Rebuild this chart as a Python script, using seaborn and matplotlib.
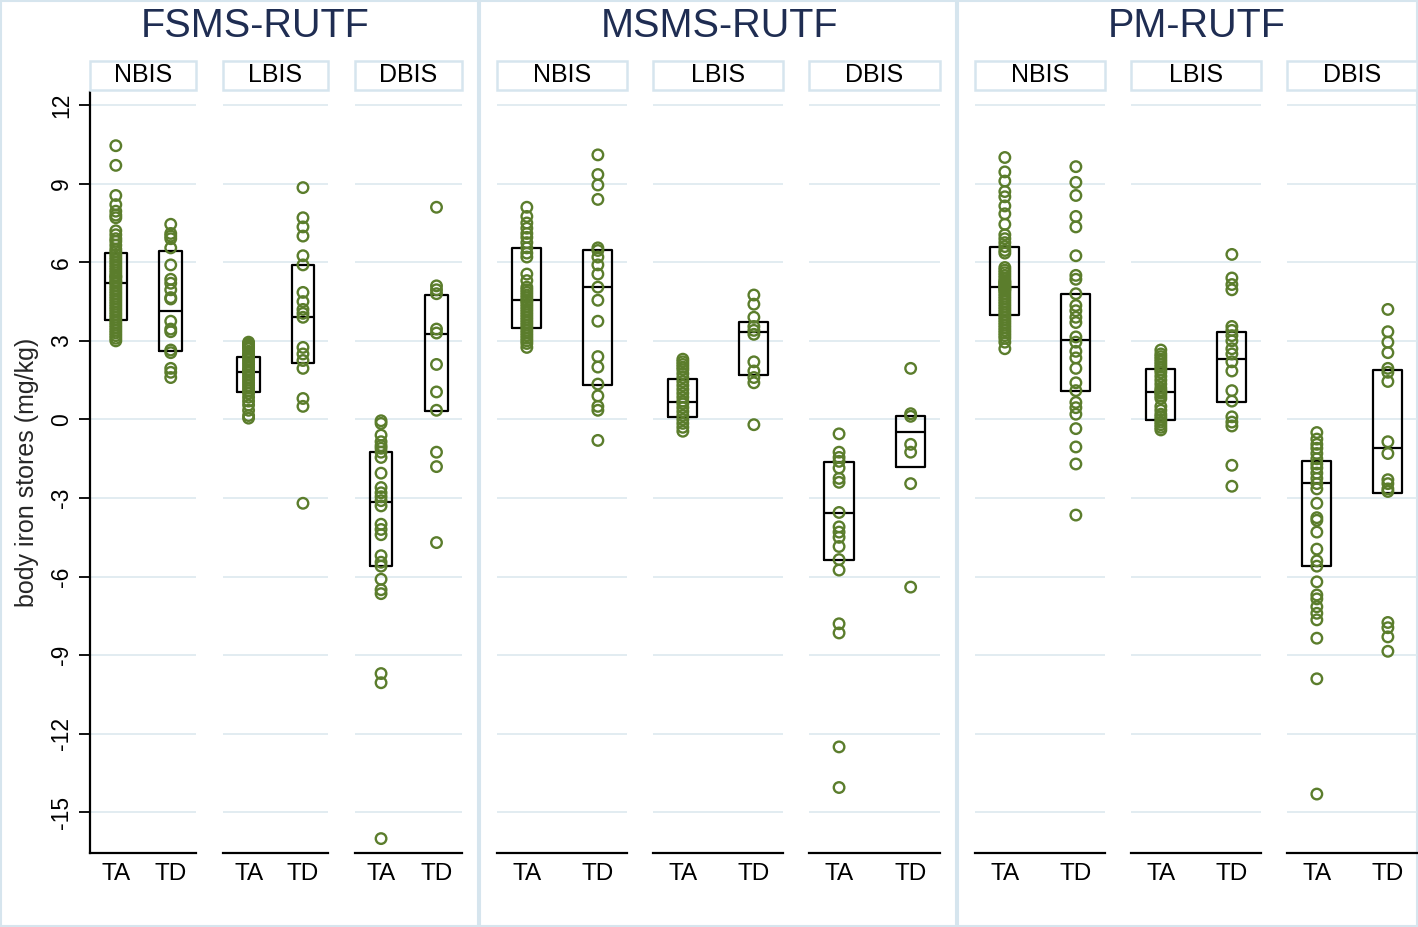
import numpy as np
import pandas as pd
import matplotlib
matplotlib.use("Agg")
import matplotlib.pyplot as plt
import seaborn as sns
from matplotlib.patches import Rectangle

# ---------------- data ----------------
programs = ["FSMS-RUTF", "MSMS-RUTF", "PM-RUTF"]
statuses = ["NBIS", "LBIS", "DBIS"]
groups = ["TA", "TD"]
yticks = [-15, -12, -9, -6, -3, 0, 3, 6, 9, 12]

fsms_nbis_ta = [10.45, 9.7, 8.55, 8.2, 7.95, 7.8, 7.7, 7.2, 7.05, 6.9, 6.8, 6.65, 6.5, 6.4, 6.3,
                6.2, 6.1, 6.0, 5.9, 5.8, 5.7, 5.6, 5.5, 5.45, 5.4, 5.3, 5.25, 5.2, 5.1, 5.0, 4.9,
                4.8, 4.7, 4.6, 4.5, 4.4, 4.3, 4.2, 4.1, 4.0, 3.9, 3.8, 3.7, 3.6, 3.5, 3.4, 3.3,
                3.2, 3.1, 3.0]
fsms_nbis_td = [7.45, 7.1, 7.0, 6.9, 6.55, 5.9, 5.35, 5.2, 4.95, 4.65, 4.6, 3.75, 3.45, 3.35,
                2.65, 2.55, 1.95, 1.8, 1.6]
fsms_lbis_ta = [2.95, 2.9, 2.85, 2.8, 2.75, 2.7, 2.6, 2.5, 2.45, 2.4, 2.3, 2.2, 2.1, 2.0, 1.9,
                1.85, 1.8, 1.7, 1.6, 1.5, 1.4, 1.3, 1.2, 1.1, 1.0, 0.85, 0.7, 0.55, 0.35, 0.15, 0.05]
fsms_lbis_td = [8.85, 7.7, 7.35, 7.0, 6.25, 5.9, 4.85, 4.5, 4.2, 4.05, 3.9, 2.75, 2.5, 2.25,
                1.95, 0.8, 0.5, -3.2]
fsms_dbis_ta = [-0.05, -0.15, -0.6, -0.85, -1.0, -1.1, -1.25, -1.45, -2.05, -2.6, -2.8, -2.95,
                -3.1, -3.3, -4.0, -4.2, -4.4, -5.2, -5.45, -5.6, -6.1, -6.5, -6.65, -9.7, -10.05, -16.0]
fsms_dbis_td = [8.1, 5.1, 4.95, 4.8, 3.45, 3.3, 2.1, 1.05, 0.35, -1.25, -1.8, -4.7]

msms_nbis_ta = [8.1, 7.75, 7.5, 7.3, 7.1, 6.95, 6.75, 6.55, 6.35, 6.2, 5.55, 5.3, 5.05, 4.95,
                4.85, 4.75, 4.65, 4.55, 4.5, 4.4, 4.3, 4.2, 4.1, 4.0, 3.9, 3.8, 3.7, 3.6, 3.5,
                3.4, 3.3, 3.2, 3.1, 3.0, 2.9, 2.75]
msms_nbis_td = [10.1, 9.35, 8.95, 8.4, 6.55, 6.45, 6.2, 5.9, 5.55, 5.05, 4.55, 3.75, 2.4, 2.0,
                1.35, 0.9, 0.5, 0.35, -0.8]
msms_lbis_ta = [2.3, 2.2, 2.1, 2.0, 1.9, 1.75, 1.6, 1.45, 1.3, 1.15, 1.0, 0.85, 0.7, 0.6, 0.45,
                0.3, 0.15, 0.0, -0.15, -0.3, -0.45]
msms_lbis_td = [4.75, 4.4, 3.9, 3.55, 3.4, 3.25, 2.2, 1.85, 1.6, 1.4, -0.2]
msms_dbis_ta = [-0.55, -1.25, -1.45, -1.6, -1.85, -2.25, -2.4, -3.55, -4.1, -4.3, -4.5, -4.85,
                -5.35, -5.75, -7.8, -8.15, -12.5, -14.05]
msms_dbis_td = [1.95, 0.22, 0.12, -0.95, -1.25, -2.45, -6.4]

pm_nbis_ta = [10.0, 9.45, 9.1, 8.7, 8.5, 8.15, 7.85, 7.45, 7.05, 6.9, 6.75, 6.6, 6.45, 6.35,
              5.8, 5.7, 5.6, 5.5, 5.4, 5.3, 5.25, 5.2, 5.15, 5.1, 5.05, 5.0, 4.95, 4.9, 4.8,
              4.7, 4.6, 4.5, 4.4, 4.3, 4.2, 4.1, 4.0, 3.9, 3.8, 3.7, 3.6, 3.5, 3.4, 3.3, 3.2,
              3.1, 2.95, 2.7]
pm_nbis_td = [9.65, 9.05, 8.55, 7.75, 7.35, 6.25, 5.5, 5.35, 4.8, 4.35, 4.15, 3.9, 3.7, 3.15,
              2.95, 2.6, 2.35, 1.95, 1.4, 1.1, 0.65, 0.45, 0.2, -0.35, -1.05, -1.7, -3.65]
pm_lbis_ta = [2.65, 2.5, 2.4, 2.3, 2.2, 2.1, 2.0, 1.9, 1.8, 1.65, 1.5, 1.35, 1.2, 1.1, 1.05,
              1.0, 0.9, 0.8, 0.5, 0.35, 0.2, 0.1, 0.0, -0.1, -0.2, -0.3, -0.4]
pm_lbis_td = [6.3, 5.4, 5.15, 4.95, 3.55, 3.4, 3.2, 3.0, 2.7, 2.5, 2.2, 1.85, 1.1, 0.7, 0.1,
              -0.1, -0.25, -1.75, -2.55]
pm_dbis_ta = [-0.5, -0.75, -0.95, -1.1, -1.3, -1.5, -1.7, -1.85, -2.05, -2.25, -2.45, -2.65,
              -3.2, -3.75, -3.85, -4.3, -4.95, -5.4, -5.6, -6.2, -6.7, -6.85, -7.15, -7.4,
              -7.65, -8.35, -9.9, -14.3]
pm_dbis_td = [4.2, 3.35, 2.95, 2.55, 1.95, 1.8, 1.45, -0.85, -1.3, -2.3, -2.45, -2.65, -2.75,
              -7.75, -7.95, -8.3, -8.85]

# box statistics, order: NBIS-TA, NBIS-TD, LBIS-TA, LBIS-TD, DBIS-TA, DBIS-TD
box_q1 = {"FSMS-RUTF": [3.8, 2.62, 1.03, 2.14, -5.59, 0.32],
          "MSMS-RUTF": [3.5, 1.33, 0.11, 1.7, -5.36, -1.81],
          "PM-RUTF": [4.0, 1.1, -0.01, 0.68, -5.58, -2.82]}
box_med = {"FSMS-RUTF": [5.2, 4.15, 1.82, 3.9, -3.16, 3.28],
           "MSMS-RUTF": [4.55, 5.05, 0.66, 3.35, -3.56, -0.46],
           "PM-RUTF": [5.05, 3.03, 1.04, 2.3, -2.44, -1.08]}
box_q3 = {"FSMS-RUTF": [6.35, 6.42, 2.4, 5.9, -1.24, 4.75],
          "MSMS-RUTF": [6.55, 6.47, 1.54, 3.73, -1.62, 0.14],
          "PM-RUTF": [6.58, 4.77, 1.93, 3.35, -1.6, 1.9]}

series = {
    ("FSMS-RUTF", "NBIS", "TA"): fsms_nbis_ta, ("FSMS-RUTF", "NBIS", "TD"): fsms_nbis_td,
    ("FSMS-RUTF", "LBIS", "TA"): fsms_lbis_ta, ("FSMS-RUTF", "LBIS", "TD"): fsms_lbis_td,
    ("FSMS-RUTF", "DBIS", "TA"): fsms_dbis_ta, ("FSMS-RUTF", "DBIS", "TD"): fsms_dbis_td,
    ("MSMS-RUTF", "NBIS", "TA"): msms_nbis_ta, ("MSMS-RUTF", "NBIS", "TD"): msms_nbis_td,
    ("MSMS-RUTF", "LBIS", "TA"): msms_lbis_ta, ("MSMS-RUTF", "LBIS", "TD"): msms_lbis_td,
    ("MSMS-RUTF", "DBIS", "TA"): msms_dbis_ta, ("MSMS-RUTF", "DBIS", "TD"): msms_dbis_td,
    ("PM-RUTF", "NBIS", "TA"): pm_nbis_ta, ("PM-RUTF", "NBIS", "TD"): pm_nbis_td,
    ("PM-RUTF", "LBIS", "TA"): pm_lbis_ta, ("PM-RUTF", "LBIS", "TD"): pm_lbis_td,
    ("PM-RUTF", "DBIS", "TA"): pm_dbis_ta, ("PM-RUTF", "DBIS", "TD"): pm_dbis_td,
}
rows = []
for (p, s, g), vals in series.items():
    for v in vals:
        rows.append({"program": p, "status": s, "group": g, "value": v})
df = pd.DataFrame(rows)

# ---------------- style ----------------
sns.set_theme(style="white")
plt.rcParams["font.family"] = ["Liberation Sans", "DejaVu Sans"]
plt.rcParams["axes.unicode_minus"] = False

GREEN = "#5b7d2c"
FRAME = "#d6e5ee"
GRID = "#dde9ef"
TITLE_COLOR = "#1f2d52"

W, H = 1418, 927
fig = plt.figure(figsize=(W / 100, H / 100), dpi=100)
fig.patch.set_facecolor("white")

# panel frames
for x0, x1 in [(1, 478), (480, 956), (958, 1417)]:
    fig.add_artist(Rectangle((x0 / W, 1 / H), (x1 - x0) / W, (H - 2) / H,
                             transform=fig.transFigure, fill=False,
                             edgecolor=FRAME, lw=1.5, zorder=0))

axes_x = [[(90, 196), (223, 328), (355, 462)],
          [(497, 627), (653, 783), (809, 940)],
          [(975, 1105), (1131, 1261), (1287, 1417)]]
xlims = [(-0.47, 1.46), (-0.42, 1.41), (-0.42, 1.41)]
title_x = [255, 720, 1197]
ax_bottom, ax_top = 853, 92

for pi, prog in enumerate(programs):
    fig.text(title_x[pi] / W, 1 - 26 / H, prog, ha="center", va="center",
             fontsize=28.5, color=TITLE_COLOR)
    for si, stat in enumerate(statuses):
        x0, x1 = axes_x[pi][si]
        ax = fig.add_axes([x0 / W, (H - ax_bottom) / H, (x1 - x0) / W, (ax_bottom - ax_top) / H])
        sub = df[(df.program == prog) & (df.status == stat)]
        sns.stripplot(data=sub, x="group", y="value", order=groups, jitter=False,
                      size=7.6, color=GREEN, ax=ax, zorder=3)
        for coll in ax.collections:
            coll.set_facecolor("none")
            coll.set_edgecolor(GREEN)
            coll.set_linewidth(1.7)
        stats = []
        for gi, g in enumerate(groups):
            k = si * 2 + gi
            q1, md, q3 = box_q1[prog][k], box_med[prog][k], box_q3[prog][k]
            stats.append(dict(q1=q1, med=md, q3=q3, whislo=q1, whishi=q3, fliers=[]))
        ax.bxp(stats, positions=[0, 1], widths=0.41, showcaps=False, showfliers=False,
               manage_ticks=False,
               boxprops=dict(color="black", lw=1.6),
               medianprops=dict(color="black", lw=1.6),
               whiskerprops=dict(lw=0))
        ax.set_xlim(*xlims[pi])
        ax.set_ylim(-16.55, 12.5)
        ax.set_yticks(yticks)
        ax.set_xticks([0, 1])
        ax.set_xticklabels(groups)
        ax.set_xlabel("")
        ax.yaxis.grid(True, color=GRID, lw=1.2)
        ax.xaxis.grid(False)
        ax.set_axisbelow(True)
        ax.set_facecolor("none")
        for sp in ["top", "right"]:
            ax.spines[sp].set_visible(False)
        ax.spines["bottom"].set_color("black")
        ax.spines["bottom"].set_linewidth(1.6)
        ax.tick_params(axis="x", length=0, pad=7, labelsize=17.5, colors="black")
        if pi == 0 and si == 0:
            ax.spines["left"].set_color("black")
            ax.spines["left"].set_linewidth(1.6)
            ax.tick_params(axis="y", left=True, length=8, width=1.3, pad=4,
                           labelsize=16.5, labelrotation=90, colors="black")
            for lab in ax.get_yticklabels():
                lab.set_va("center")
            ax.set_ylabel("body iron stores (mg/kg)", fontsize=18, labelpad=8)
        else:
            ax.spines["left"].set_visible(False)
            ax.tick_params(axis="y", left=False, labelleft=False)
            ax.set_ylabel("")
        # header strip
        fig.add_artist(Rectangle((x0 / W, (H - 90) / H), (x1 - x0) / W, 29 / H,
                                 transform=fig.transFigure, facecolor="white",
                                 edgecolor=FRAME, lw=1.8))
        fig.text((x0 + x1) / 2 / W, (H - 75.5) / H, stat, ha="center", va="center",
                 fontsize=18, color="black")

fig.savefig("out.png", dpi=100)
